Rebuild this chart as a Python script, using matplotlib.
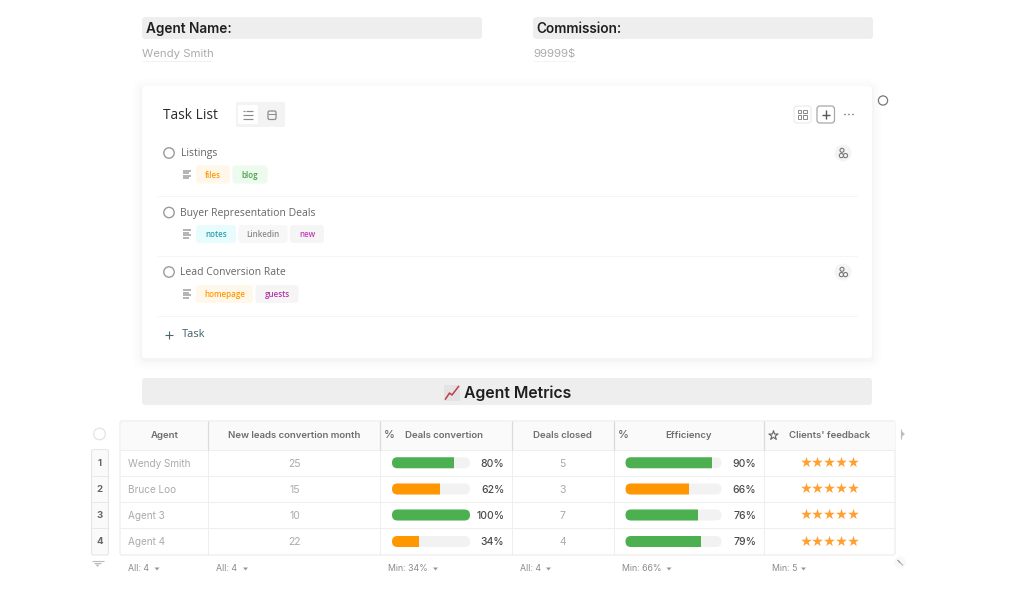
import matplotlib
matplotlib.use("Agg")
import matplotlib.pyplot as plt
from matplotlib.patches import FancyBboxPatch, Rectangle, Circle

# ---- data ----
agents = ["Wendy Smith", "Bruce Loo", "Agent 3", "Agent 4"]
new_leads = [25, 15, 10, 22]
deals_conv = [80, 62, 100, 34]
deals_closed = [5, 3, 7, 4]
efficiency = [90, 66, 76, 79]
feedback = [5, 5, 5, 5]
headers = ["Agent", "New leads convertion month", "Deals convertion", "Deals closed", "Efficiency", "Clients' feedback"]
footers = ["All: 4", "All: 4", "Min: 34%", "All: 4", "Min: 66%", "Min: 5"]
tasks = ["Listings", "Buyer Representation Deals", "Lead Conversion Rate"]
task_tags = [
    [("files", "#FF9800", "#FFF8EA", 34), ("blog", "#43A047", "#EDFBEF", 35)],
    [("notes", "#26A0B5", "#E8FBFD", 40), ("Linkedin", "#8A8A8A", "#F7F7F7", 49), ("new", "#C23BB5", "#F5F5F5", 34)],
    [("homepage", "#FF9800", "#FFF8EA", 57), ("guests", "#B531A8", "#F5F5F5", 43)],
]

GREEN, ORANGE, TRACK = "#4CAF50", "#FF9800", "#F2F2F2"
LINE = "#E9E9E9"
plt.rcParams["font.family"] = ["Inter", "DejaVu Sans"]

fig = plt.figure(figsize=(10.24, 5.97), dpi=100, facecolor="white")
ax = fig.add_axes([0, 0, 1, 1])
ax.set_xlim(0, 1024)
ax.set_ylim(597, 0)
ax.axis("off")


def px(s):
    return s * 0.72


def rrect(x0, y0, x1, y1, r=3, fc="#EEEEEE", ec="none", lw=0, z=1, alpha=None):
    p = FancyBboxPatch((x0 + r, y0 + r), x1 - x0 - 2 * r, y1 - y0 - 2 * r,
                       boxstyle=f"round,pad={r},rounding_size={r}",
                       fc=fc, ec=ec, lw=lw, zorder=z, alpha=alpha, mutation_aspect=1)
    ax.add_patch(p)
    return p


def txt(x, y, s, size, color="#333333", ha="left", weight="normal", family=None, z=6):
    kw = {"family": family} if family else {}
    ax.text(x, y + 0.9, s, fontsize=px(size), color=color, ha=ha, va="center", weight=weight, zorder=z, **kw)


def line(xs, ys, c=LINE, lw=1.0, z=2):
    ax.plot(xs, ys, color=c, lw=lw * 0.72, zorder=z, solid_capstyle="butt")


# ---- top fields ----
rrect(142, 17, 482, 39, fc="#EEEEEE")
rrect(533, 17, 873, 39, fc="#EEEEEE")
txt(146, 28, "Agent Name:", 13.6, "#1F1F1F", weight="semibold")
txt(536, 28, "Commission:", 13.6, "#1F1F1F", weight="semibold")
txt(142, 53.5, "Wendy Smith", 11.4, "#ABABAB")
txt(533, 53.5, "99999$", 11.4, "#ABABAB")
line([142, 212], [60.5, 60.5], "#F1F1F1")
line([533, 576], [60.5, 60.5], "#F4F4F4")

# ---- task card ----
for grow, a in [(9, 0.006), (6, 0.008), (3, 0.01), (1.5, 0.012)]:
    rrect(142 - grow, 86 - grow + 2, 872 + grow, 358 + grow + 2, r=3 + grow, fc="black", z=1, alpha=a)
rrect(142, 86, 872, 358, r=3, fc="white", z=1.5)

OS = "Open Sans"
txt(163, 114.5, "Task List", 13.8, "#2B2B2B", family=OS, weight="medium")
rrect(236, 102, 285, 127, r=2, fc="#F3F3F3", z=2)
rrect(238, 105, 258, 124, r=2, fc="white", z=2.5)
for yy, x0 in [(110.5, 246), (114.5, 243), (118.5, 243)]:
    line([x0, 253], [yy, yy], "#8C8C8C", 1.2, z=3)
line([243, 245], [110.5, 110.5], "#8C8C8C", 1.2, z=3)
rrect(268, 111, 276, 119.5, r=1.5, fc="none", ec="#8C8C8C", lw=0.9, z=3)
line([268, 276], [113.5, 113.5], "#8C8C8C", 1, z=3)

# right tools
rrect(794, 106, 811, 123, r=3, fc="white", ec="#EAEAEA", lw=0.8, z=2)
for gx, gy in [(799.5, 111.5), (805, 111.5), (799.5, 117), (805, 117)]:
    ax.add_patch(Rectangle((gx - 1.7, gy - 1.7), 3.6, 3.2, fc="none", ec="#8A8A8A", lw=0.7, zorder=3))
rrect(817, 106, 834.5, 123, r=3, fc="white", ec="#A8A8A8", lw=0.9, z=2)
line([821.5, 830], [114.5, 114.5], "#555555", 1.4, z=3)
line([825.8, 825.8], [110.2, 118.8], "#555555", 1.4, z=3)
for dx in [845, 849, 853]:
    ax.add_patch(Circle((dx, 114.5), 0.8, fc="#777777", zorder=3))
ax.add_patch(Circle((883, 100.5), 4.6, fc="white", ec="#777777", lw=0.9, zorder=3))


def user_icon(cx, cy):
    ax.add_patch(Circle((cx, cy), 8.5, fc="#F4F4F4", zorder=2.5))
    ax.add_patch(Circle((cx - 1, cy - 2.7), 2, fc="none", ec="#777777", lw=0.8, zorder=3))
    ax.add_patch(Circle((cx - 1.6, cy + 2.6), 2.1, fc="none", ec="#777777", lw=0.8, zorder=3))
    ax.add_patch(Circle((cx + 2.5, cy + 2.6), 2.1, fc="#F4F4F4", ec="#777777", lw=0.8, zorder=3.1))


task_y = [153, 212.5, 272]
tag_y = [174.5, 234, 294]
task_user = [True, False, True]
for t, ty, gy, tags, hasu in zip(tasks, task_y, tag_y, task_tags, task_user):
    ax.add_patch(Circle((169, ty), 5.2, fc="white", ec="#9A9A9A", lw=1.0, zorder=3))
    txt(180.5, ty, t, 10.4, "#666666", family=OS)
    for k, wd in enumerate([8, 6, 8, 6]):
        line([183, 183 + wd], [gy - 3.6 + k * 2.4] * 2, "#A3A3A3", 1.6, z=3)
    x = 196
    for s, c, bg, w in tags:
        rrect(x, gy - 9, x + w, gy + 9, r=3.5, fc=bg, z=2.5)
        txt(x + w / 2, gy, s, 8, c, ha="center", family=OS, weight="semibold")
        x += w + 2.5
    if hasu:
        user_icon(843, ty)

for yy in [195.5, 255.5, 315.5]:
    line([157, 857], [yy, yy], "#F5F5F5", 1.0, z=2)
line([165, 173], [334.5, 334.5], "#4A6670", 1.1, z=3)
line([169, 169], [330.5, 338.5], "#4A6670", 1.1, z=3)
txt(181.5, 334, "Task", 11, "#3D5E6B", family=OS, weight="medium")

# ---- Agent Metrics banner ----
rrect(142, 378, 872, 405, fc="#EEEEEE")
rrect(444, 385, 460, 401, r=1, fc="#E3E3E3", z=2)
ax.plot([445.5, 449.5, 452, 458.5], [399, 393, 395, 386.5], color="#C43B4C", lw=1.1, zorder=3)
txt(464, 392, "Agent Metrics", 15.8, "#1F1F1F", weight="semibold")

# ---- table ----
col_x = [120, 208, 380, 511.5, 613.5, 763.5, 895]
row_y = [449.5, 476, 502, 528, 555]
T0 = 421
rrect(120, T0, 895, 555, r=2, fc="white", ec="#EBEBEB", lw=0.8, z=1.5)
ax.add_patch(Rectangle((120.5, T0 + .5), 774, row_y[0] - T0, fc="#FAFAFA", ec="none", zorder=1.6))
for yy in row_y[:-1]:
    line([120, 895], [yy, yy], "#EEEEEE", 1, z=2)
for i, xx in enumerate(col_x[1:-1]):
    line([xx, xx], [T0, row_y[0]], "#DADADA", 1.2, z=2.1)
    line([xx, xx], [row_y[0], 555], "#EEEEEE", 1, z=2)

HC = "#6E6E6E"
hx = [164.5, 294, 444, 562, 689, 829.5]
for h, x in zip(headers, hx):
    txt(x, 434.8, h, 9.6, HC, ha="center", weight="semibold")
txt(389, 434.3, "%", 11, "#666666", ha="center", weight="medium")
txt(623.5, 434.3, "%", 11, "#666666", ha="center", weight="medium")
ax.scatter([772.5], [435], marker="*", s=48, fc="white", ec="#666666", lw=0.8, zorder=6)

row_c = [(a + b) / 2 for a, b in zip(row_y[:-1], row_y[1:])]

# row-number gutter
ax.add_patch(Circle((99.5, 434), 5.8, fc="white", ec="#E3E3E3", lw=0.9, zorder=3))
rrect(91.5, 449.5, 108.5, 555, r=2, fc="#FAFAFA", ec="#E6E6E6", lw=0.8, z=2)
for yy in row_y[1:-1]:
    line([91.5, 108.5], [yy, yy], "#E8E8E8", 1, z=3)


def bar(x0, x1, cy, value):
    rrect(x0, cy - 5.5, x1, cy + 5.5, r=5.5, fc=TRACK, z=3)
    p = rrect(x0, cy - 5.5, x1, cy + 5.5, r=5.5, fc=GREEN if value >= 70 else ORANGE, z=3.5)
    clip = Rectangle((x0 - 1, cy - 7), (x1 - x0) * value / 100 + 1, 14, transform=ax.transData)
    p.set_clip_path(clip)


for i, cy in enumerate(row_c):
    txt(99.5, cy - 0.4, str(i + 1), 9.6, "#666666", ha="center", weight="bold")
    txt(128, cy, agents[i], 10, "#ABABAB")
    txt(294.5, cy, str(new_leads[i]), 10.4, "#ABABAB", ha="center")
    bar(392, 470, cy, deals_conv[i])
    txt(504.5, cy, f"{deals_conv[i]}%", 10.4, "#4A4A4A", ha="right", weight="medium")
    txt(562.5, cy, str(deals_closed[i]), 10.4, "#ABABAB", ha="center")
    bar(625.5, 721.5, cy, efficiency[i])
    txt(756, cy, f"{efficiency[i]}%", 10.4, "#4A4A4A", ha="right", weight="medium")
    for s in range(feedback[i]):
        ax.scatter([805.5 + s * 11.8], [cy - 1], marker="*", s=66, color="#FF9F2F", lw=0, zorder=5)

# footers
fx = [128, 216.5, 388, 519.5, 621.5, 771.5]
fw = [26, 26, 44.5, 26, 44.5, 29]
for f, x, w in zip(footers, fx, fw):
    txt(x, 568, f, 8.8, "#8A8A8A")
    ax.fill([x + w + 0.5, x + w + 5.5, x + w + 3], [567.5, 567.5, 570.5], color="#999999", lw=0, zorder=5)

# filter glyph under gutter
line([91.5, 103.5], [560.5, 560.5], "#BBBBBB", 1.1, z=3)
line([94, 101], [563, 563], "#BBBBBB", 1.1, z=3)
ax.fill([95.5, 99.5, 97.5], [564.5, 564.5, 567], color="#BBBBBB", lw=0, zorder=3)

# handles on the right
line([900.5, 900.5], [429, 439], "#BDBDBD", 1.2, z=3)
ax.fill([902, 905, 902], [431.5, 434, 436.5], color="#BDBDBD", lw=0, zorder=3)
ax.add_patch(Circle((900, 562.5), 6, fc="#F8F8F8", zorder=2))
line([897.5, 900.5], [560, 563], "#999999", 1.3, z=3)
line([900, 903], [562.5, 565.5], "#BBBBBB", 1.3, z=3)

fig.savefig("out.png", dpi=100, facecolor="white")
